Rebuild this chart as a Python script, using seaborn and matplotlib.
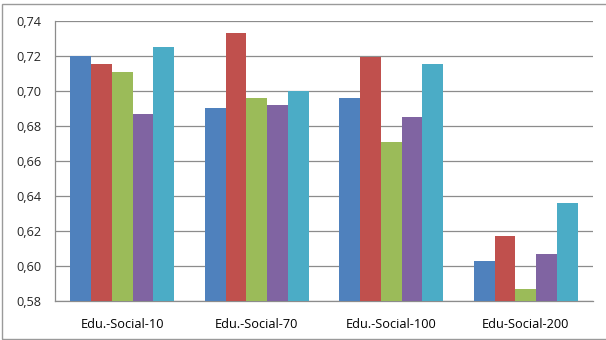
import matplotlib
matplotlib.use("Agg")
import matplotlib.pyplot as plt
from matplotlib.patches import Rectangle
from matplotlib.ticker import FuncFormatter, FixedLocator, MultipleLocator
import seaborn as sns
import pandas as pd

# Datasets on the x axis
datasets = ["Edu.-Social-10", "Edu.-Social-70", "Edu.-Social-100", "Edu-Social-200"]

# One list of scores per series, in dataset order
series_1 = [0.720, 0.690, 0.696, 0.603]
series_2 = [0.715, 0.733, 0.719, 0.617]
series_3 = [0.711, 0.696, 0.671, 0.587]
series_4 = [0.687, 0.692, 0.685, 0.607]
series_5 = [0.725, 0.700, 0.715, 0.636]

series_names = ["S1", "S2", "S3", "S4", "S5"]
colors = ["#4F81BD", "#C0504D", "#9BBB59", "#8064A2", "#4BACC6"]

rows = []
for name, vals in zip(series_names, [series_1, series_2, series_3, series_4, series_5]):
    for ds, v in zip(datasets, vals):
        rows.append({"dataset": ds, "series": name, "score": v})
df = pd.DataFrame(rows)

sns.set_style("white")
plt.rcParams["font.family"] = ["Open Sans", "DejaVu Sans"]

fig = plt.figure(figsize=(6.06, 3.40), dpi=100)
ax = fig.add_axes([55 / 606, 1 - 301 / 340, (593 - 55) / 606, (301 - 20.7) / 340])

sns.barplot(data=df, x="dataset", y="score", hue="series", palette=colors,
            hue_order=series_names, order=datasets, width=0.77,
            saturation=1, legend=False, ax=ax, zorder=3)
for p in ax.patches:
    p.set_edgecolor("none")

grid_c = "#8c8c8c"
ax.set_ylim(0.58, 0.74)
ax.set_xlim(-0.5, 3.5)
ax.yaxis.set_major_locator(MultipleLocator(0.02))
ax.yaxis.set_major_formatter(FuncFormatter(lambda v, _: f"{v:.2f}".replace(".", ",")))
ax.grid(axis="y", color=grid_c, linewidth=0.9, zorder=0)
ax.set_axisbelow(True)

ax.xaxis.set_minor_locator(FixedLocator([-0.5, 0.5, 1.5, 2.5, 3.5]))
ax.tick_params(axis="x", which="major", length=0, pad=12, labelsize=9.2, colors="black")
ax.tick_params(axis="x", which="minor", length=4, width=0.9, color=grid_c, direction="out")
ax.tick_params(axis="y", which="major", length=5, width=0.9, color=grid_c,
               direction="out", labelsize=9.2, pad=4.5)
ax.set_xlabel("")
ax.set_ylabel("")

for side in ["top", "right"]:
    ax.spines[side].set_visible(False)
for side in ["left", "bottom"]:
    ax.spines[side].set_color(grid_c)
    ax.spines[side].set_linewidth(0.9)

# Outer chart frame
fig.patches.append(Rectangle((2 / 606, 1 / 340), 610 / 606, 335 / 340,
                             transform=fig.transFigure, fill=False,
                             edgecolor="#9a9a9a", linewidth=1.0))

fig.savefig("out.png", dpi=100, facecolor="white")
